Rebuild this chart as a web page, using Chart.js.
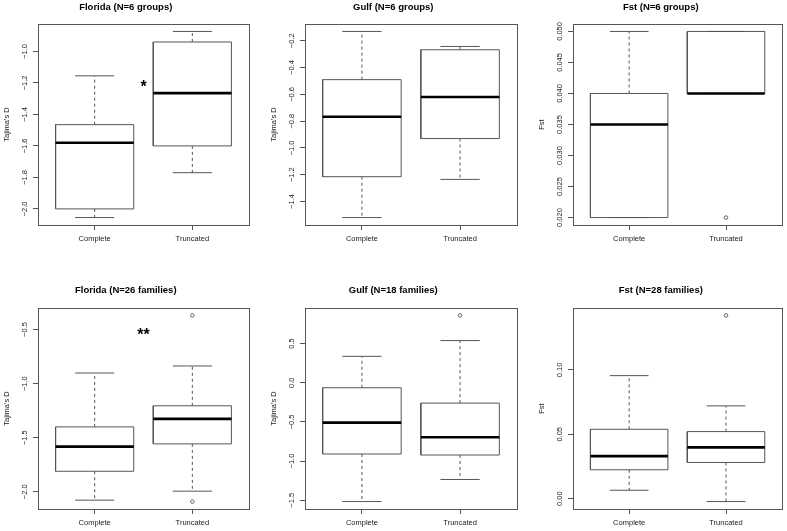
<!DOCTYPE html>
<html>
<head>
<meta charset="utf-8">
<script src="https://cdn.jsdelivr.net/npm/chart.js@4"></script>
<style>
body { margin: 0; background: #fff; }
.panel { position: absolute; }
</style>
</head>
<body>
<canvas class="panel" id="c1" width="262" height="265" style="left:0;top:0"></canvas>
<canvas class="panel" id="c2" width="262" height="265" style="left:262px;top:0"></canvas>
<canvas class="panel" id="c3" width="263" height="265" style="left:524px;top:0"></canvas>
<canvas class="panel" id="c4" width="262" height="266" style="left:0;top:265px"></canvas>
<canvas class="panel" id="c5" width="262" height="266" style="left:262px;top:265px"></canvas>
<canvas class="panel" id="c6" width="263" height="266" style="left:524px;top:265px"></canvas>
<script>
var groups = ['Complete', 'Truncated'];

// box stats: [lower whisker, Q1, median, Q3, upper whisker]
var flGrpComplete = [-2.055, -2.0, -1.58, -1.465, -1.155];
var flGrpTruncated = [-1.77, -1.6, -1.265, -0.94, -0.873];
var flGrpOutliers = [[], []];
var flGrpTicks = [-2.0, -1.8, -1.6, -1.4, -1.2, -1.0];
var flGrpMark = ['*', -1.2];

var gfGrpComplete = [-1.52, -1.215, -0.767, -0.49, -0.13];
var gfGrpTruncated = [-1.235, -0.93, -0.62, -0.267, -0.242];
var gfGrpOutliers = [[], []];
var gfGrpTicks = [-1.4, -1.2, -1.0, -0.8, -0.6, -0.4, -0.2];

var fstGrpComplete = [0.020, 0.020, 0.035, 0.040, 0.050];
var fstGrpTruncated = [0.040, 0.040, 0.040, 0.050, 0.050];
var fstGrpOutliers = [[], [0.020]];
var fstGrpTicks = [0.020, 0.025, 0.030, 0.035, 0.040, 0.045, 0.050];

var flFamComplete = [-2.077, -1.81, -1.582, -1.4, -0.902];
var flFamTruncated = [-1.994, -1.557, -1.326, -1.205, -0.837];
var flFamOutliers = [[], [-0.37, -2.09]];
var flFamTicks = [-2.0, -1.5, -1.0, -0.5];
var flFamMark = ['**', -0.51];

var gfFamComplete = [-1.517, -0.91, -0.509, -0.064, 0.337];
var gfFamTruncated = [-1.235, -0.923, -0.696, -0.26, 0.538];
var gfFamOutliers = [[], [0.859]];
var gfFamTicks = [-1.5, -1.0, -0.5, 0.0, 0.5];

var fstFamComplete = [0.0065, 0.0224, 0.033, 0.0539, 0.0956];
var fstFamTruncated = [-0.0023, 0.0281, 0.0398, 0.0521, 0.0721];
var fstFamOutliers = [[], [0.1424]];
var fstFamTicks = [0.00, 0.05, 0.10];

var FONT = '"Liberation Sans", Arial, Helvetica, sans-serif';
Chart.defaults.font.family = FONT;

function fmt(v, d) {
    return v.toFixed(d).replace('-', '\u2212');
}

function yRange(stats, outliers) {
    var all = [].concat(stats[0], stats[1], outliers[0], outliers[1]);
    var lo = Math.min.apply(null, all), hi = Math.max.apply(null, all);
    var pad = (hi - lo) * 0.04;
    return [lo - pad, hi + pad];
}

function boxDatasets(stats, outliers) {
    var box = [], med = [], whisk = [], caps = [], pts = [];
    stats.forEach(function (s, i) {
        var x = i + 1, gap = {x: x, y: null};
        box.push({x: x - 0.4, y: s[1]}, {x: x + 0.4, y: s[1]}, {x: x + 0.4, y: s[3]},
                 {x: x - 0.4, y: s[3]}, {x: x - 0.4, y: s[1]}, gap);
        med.push({x: x - 0.4, y: s[2]}, {x: x + 0.4, y: s[2]}, gap);
        whisk.push({x: x, y: s[3]}, {x: x, y: s[4]}, gap, {x: x, y: s[1]}, {x: x, y: s[0]}, gap);
        caps.push({x: x - 0.2, y: s[4]}, {x: x + 0.2, y: s[4]}, gap,
                  {x: x - 0.2, y: s[0]}, {x: x + 0.2, y: s[0]}, gap);
        outliers[i].forEach(function (v) { pts.push({x: x, y: v}); });
    });
    var line = {showLine: true, pointRadius: 0, borderWidth: 1, borderColor: '#555', spanGaps: false, tension: 0};
    return [
        Object.assign({}, line, {data: med, borderWidth: 2.6, borderColor: '#000'}),
        {data: pts, pointRadius: 1.8, pointBorderWidth: 0.8, pointBorderColor: '#444', pointBackgroundColor: '#fff'},
        Object.assign({}, line, {data: caps}),
        Object.assign({}, line, {data: whisk, borderDash: [3, 3]}),
        Object.assign({}, line, {data: box, borderJoinStyle: 'miter', backgroundColor: '#fff'})
    ];
}

var frame = {
    id: 'frame',
    afterDraw: function (chart) {
        var a = chart.chartArea, ctx = chart.ctx;
        ctx.save();
        ctx.strokeStyle = '#555';
        ctx.lineWidth = 1;
        ctx.strokeRect(Math.round(a.left) + 0.5, Math.round(a.top) + 0.5,
                       Math.round(a.right - a.left), Math.round(a.bottom - a.top));
        ctx.restore();
    }
};

var rotatedTicks = {
    id: 'rotatedTicks',
    afterDraw: function (chart, args, opts) {
        var y = chart.scales.y, ctx = chart.ctx;
        ctx.save();
        ctx.font = '7.5px ' + FONT;
        ctx.fillStyle = '#222';
        ctx.textAlign = 'center';
        ctx.textBaseline = 'middle';
        y.ticks.forEach(function (t) {
            ctx.save();
            ctx.translate(chart.chartArea.left - 13, y.getPixelForValue(t.value));
            ctx.rotate(-Math.PI / 2);
            ctx.fillText(fmt(t.value, opts.decimals), 0, 0);
            ctx.restore();
        });
        ctx.restore();
    }
};

var marks = {
    id: 'marks',
    afterDraw: function (chart, args, opts) {
        if (!opts.mark) return;
        var ctx = chart.ctx, fs = 16;
        ctx.save();
        ctx.font = 'bold ' + fs + 'px ' + FONT;
        ctx.fillStyle = '#000';
        ctx.textAlign = 'center';
        ctx.textBaseline = 'alphabetic';
        ctx.fillText(opts.mark[0], chart.scales.x.getPixelForValue(1.5),
                     chart.scales.y.getPixelForValue(opts.mark[1]) + 0.58 * fs);
        ctx.restore();
    }
};

function makePanel(id, title, yTitle, stats, outliers, ticks, decimals, mark, lay) {
    var r = yRange(stats, outliers);
    new Chart(document.getElementById(id), {
        type: 'scatter',
        data: {datasets: boxDatasets(stats, outliers)},
        options: {
            responsive: false,
            animation: false,
            events: [],
            layout: {
                padding: {
                    left: lay.plot[0] - 35.5,
                    right: lay.w - lay.plot[2],
                    top: lay.titleY - 5.7,
                    bottom: lay.h - lay.plot[3] - 30
                }
            },
            plugins: {
                legend: {display: false},
                tooltip: {enabled: false},
                title: {
                    display: true,
                    text: title,
                    color: '#000',
                    font: {size: 9.5, weight: 'bold', lineHeight: 1.2},
                    padding: {top: 0, bottom: lay.plot[1] - lay.titleY - 5.7}
                },
                rotatedTicks: {decimals: decimals},
                marks: {mark: mark}
            },
            scales: {
                x: {
                    type: 'linear',
                    min: 0.42,
                    max: 2.58,
                    afterBuildTicks: function (s) { s.ticks = [{value: 1}, {value: 2}]; },
                    afterFit: function (s) { s.height = 30; },
                    grid: {drawOnChartArea: false, drawTicks: true, tickLength: 5, color: '#555'},
                    border: {display: false},
                    ticks: {
                        font: {size: 7.5}, color: '#222', padding: 4, maxRotation: 0, autoSkip: false,
                        callback: function (v) { return groups[v - 1]; }
                    }
                },
                y: {
                    type: 'linear',
                    min: r[0],
                    max: r[1],
                    afterBuildTicks: function (s) { s.ticks = ticks.map(function (v) { return {value: v}; }); },
                    afterFit: function (s) { s.width = 35.5; },
                    grid: {drawOnChartArea: false, drawTicks: true, tickLength: 5, color: '#555'},
                    border: {display: false},
                    ticks: {display: false},
                    title: {display: true, text: yTitle, color: '#222', font: {size: 7.5}, padding: {top: 0, bottom: 0}}
                }
            }
        },
        plugins: [frame, rotatedTicks, marks]
    });
}

function lay(row, col) {
    var cols = [[262, 38, 249], [262, 43, 255], [263, 49, 260]];
    var rows = [[24, 225, 7, 265], [43, 244, 25, 266]];
    var c = cols[col], rw = rows[row];
    return {w: c[0], h: rw[3], titleY: rw[2], plot: [c[1], rw[0], c[2], rw[1]]};
}

makePanel('c1', 'Florida (N=6 groups)', "Tajima's D", [flGrpComplete, flGrpTruncated], flGrpOutliers, flGrpTicks, 1, flGrpMark, lay(0, 0));
makePanel('c2', 'Gulf (N=6 groups)', "Tajima's D", [gfGrpComplete, gfGrpTruncated], gfGrpOutliers, gfGrpTicks, 1, null, lay(0, 1));
makePanel('c3', 'Fst (N=6 groups)', 'Fst', [fstGrpComplete, fstGrpTruncated], fstGrpOutliers, fstGrpTicks, 3, null, lay(0, 2));
makePanel('c4', 'Florida (N=26 families)', "Tajima's D", [flFamComplete, flFamTruncated], flFamOutliers, flFamTicks, 1, flFamMark, lay(1, 0));
makePanel('c5', 'Gulf (N=18 families)', "Tajima's D", [gfFamComplete, gfFamTruncated], gfFamOutliers, gfFamTicks, 1, null, lay(1, 1));
makePanel('c6', 'Fst (N=28 families)', 'Fst', [fstFamComplete, fstFamTruncated], fstFamOutliers, fstFamTicks, 2, null, lay(1, 2));
</script>
</body>
</html>
